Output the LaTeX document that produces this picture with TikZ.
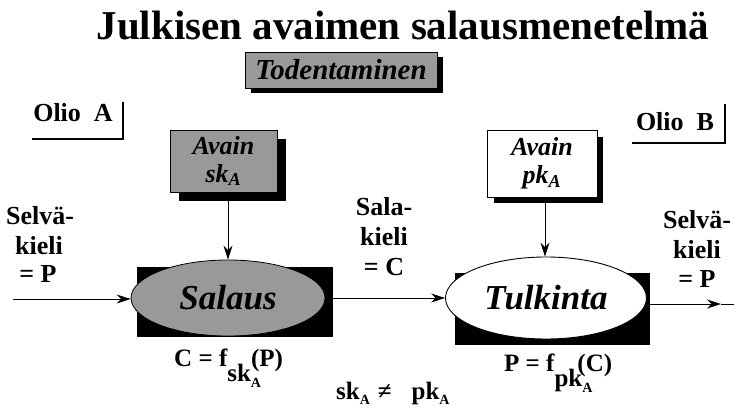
\documentclass[tikz,border=0pt]{standalone}
\usepackage{fontspec}
\setmainfont{Liberation Serif}
\usetikzlibrary{arrows.meta,shapes.geometric}
\newcommand{\subA}{\raisebox{-0.22em}{\fontsize{14}{14}\selectfont A}}
\tikzset{
  lbl/.style={font=\bfseries\fontsize{26}{26}\selectfont, inner sep=0pt, anchor=base},
  formula/.style={font=\bfseries\fontsize{25}{25}\selectfont, inner sep=0pt, anchor=base west},
  shadowbox/.style={fill=black, draw=none},
  conn/.style={line width=0.9pt, -{Stealth[length=14pt,width=9pt]}},
  conntip/.style={line width=0.9pt},
  frameL/.style={line width=2.6pt},
  grayfill/.style={fill=black!40},
  keyfont/.style={font=\bfseries\itshape\fontsize{26}{28}\selectfont},
}
\begin{document}
\begin{tikzpicture}[x=1pt,y=-1pt]
\useasboundingbox (0,0) rectangle (734,409);
\fill[white] (0,0) rectangle (734,409);
% title
\node[font=\bfseries\fontsize{41}{41}\selectfont, inner sep=0pt, anchor=base] (title) at (403,40) {Julkisen avaimen salausmenetelmä};
% Todentaminen
\fill[shadowbox] (251,57) rectangle (443,93);
\node[draw=black, line width=0.6pt, grayfill, minimum width=192pt, minimum height=36pt, inner sep=0pt,
      font=\bfseries\itshape\fontsize{29}{29}\selectfont] (tod) at (341,70) {Todentaminen};
% Olio A / Olio B
\node[lbl] (olioa) at (73,122) {Olio\ \ A};
\draw[frameL] (123,102) -- (123,139) -- (32,139);
\node[lbl] (oliob) at (675,131) {Olio\ \ B};
\draw[frameL] (725,104) -- (725,143) -- (632,143);
% key boxes
\fill[shadowbox] (179,139) rectangle (286,201);
\node[draw=black, line width=0.6pt, grayfill, minimum width=107pt, minimum height=62pt, inner sep=0pt,
      align=center, keyfont] (sk) at (223.5,161) {Avain\\sk\textsubscript{A}};
\fill[shadowbox] (494,137) rectangle (603,203);
\node[draw=black, line width=0.6pt, fill=white, minimum width=110pt, minimum height=67pt, inner sep=0pt,
      align=center, keyfont] (pk) at (542,163.5) {Avain\\pk\textsubscript{A}};
% Salaus
\fill[shadowbox] (137,267) rectangle (333,337);
\node[draw=black, line width=0.8pt, grayfill, shape=ellipse, minimum width=194pt, minimum height=76pt, inner sep=0pt,
      font=\bfseries\itshape\fontsize{35}{35}\selectfont] (salaus) at (228,298) {Salaus};
% Tulkinta
\fill[shadowbox] (455,273) rectangle (650,345);
\node[draw=black, line width=0.9pt, fill=white, shape=ellipse, minimum width=201pt, minimum height=82pt, inner sep=0pt,
      font=\bfseries\itshape\fontsize{35}{35}\selectfont] (tulk) at (546,298) {Tulkinta};
% connectors
\coordinate (inL) at (13,299);
\coordinate (salausE) at (333,298);
\coordinate (tulkE) at (650,304);
\coordinate (tipR) at (721,304);
\coordinate (endR) at (734,304);
\coordinate (skS) at (228,201);
\coordinate (pkS) at (545,203);
\draw[conn] (inL) -- (salaus.west |- inL);
\draw[conn] (salausE) -- (tulk.west |- salausE);
\draw[conn] (tulkE) -- (tipR);
\draw[conntip] (tipR) -- (endR);
\draw[conn] (skS) -- (salaus.north -| skS);
\draw[conn] (pkS) -- (tulk.north -| pkS);
% side labels
\node[lbl] (l1) at (40,225) {Selvä-};
\node[lbl] (l2) at (39,254) {kieli};
\node[lbl] (l3) at (38,282) {= P};
\node[lbl] (m1) at (384,215) {Sala-};
\node[lbl] (m2) at (384,245) {kieli};
\node[lbl] (m3) at (384,275) {= C};
\node[lbl] (r1) at (697,228) {Selvä-};
\node[lbl] (r2) at (697,258) {kieli};
\node[lbl] (r3) at (697,287) {= P};
% formulas
\node[formula] (fc) at (174,366) {C = f\raisebox{-0.62em}{sk\subA}\hspace{-0.4em}(P)};
\node[formula] (fneq) at (336,399) {sk\subA\hspace{8pt}≠\hspace{20pt}pk\subA};
\node[formula] (fp) at (504,371) {P = f\raisebox{-0.62em}{pk\subA}\hspace{-0.6em}(C)};
\end{tikzpicture}
\end{document}
